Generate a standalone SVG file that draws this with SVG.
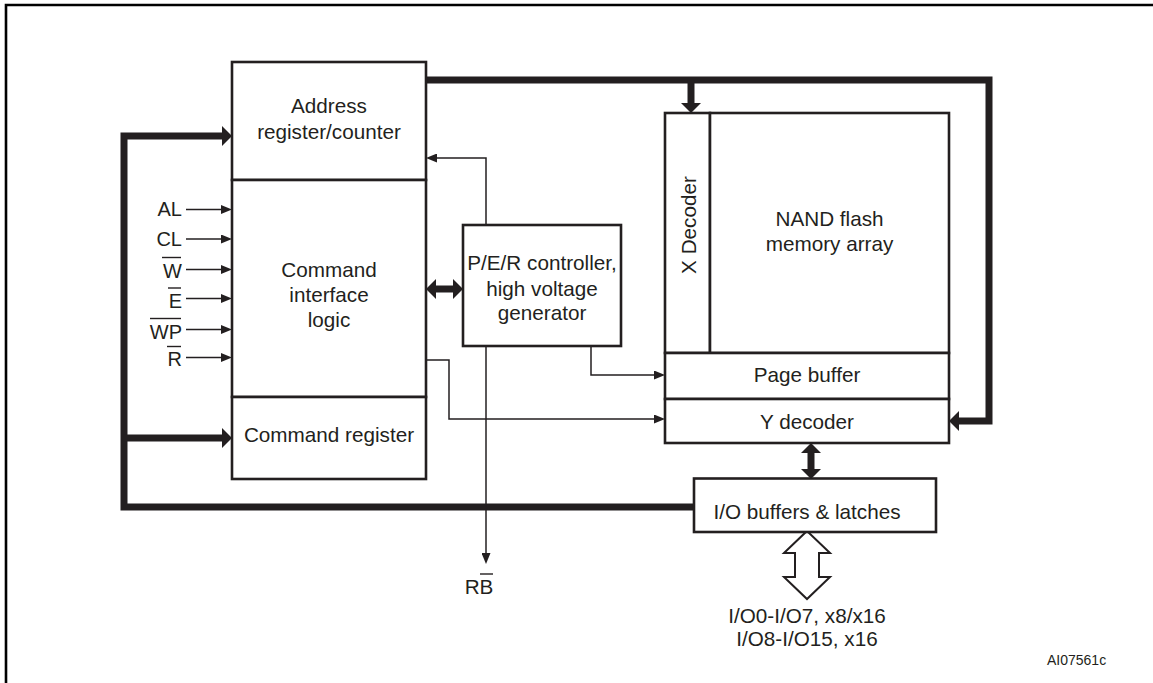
<svg xmlns="http://www.w3.org/2000/svg" width="1153" height="683" viewBox="0 0 1153 683">
<style>
  .box { fill: #ffffff; stroke: #231f20; stroke-width: 2.6; }
  .t { font-family: "Liberation Sans", Arial, sans-serif; font-size: 20.7px; fill: #231f20; text-anchor: middle; }
  .lbl { font-family: "Liberation Sans", Arial, sans-serif; font-size: 20px; fill: #231f20; text-anchor: end; }
  .small { font-family: "Liberation Sans", Arial, sans-serif; font-size: 14px; fill: #231f20; text-anchor: start; }
  .bar { stroke: #231f20; stroke-width: 1.4; }
  .bus-a { fill: none; stroke: #231f20; stroke-width: 7; stroke-linejoin: miter; marker-end: url(#busHead); }
  .bus-d { fill: none; stroke: #231f20; stroke-width: 7; marker-start: url(#busHead); marker-end: url(#busHead); }
  .wire { fill: none; stroke: #231f20; stroke-width: 1.5; marker-end: url(#thinHead); }
  .hollow { fill: #ffffff; stroke: #231f20; stroke-width: 2; stroke-linejoin: miter; }
  .frame { fill: none; stroke: #000000; stroke-width: 2.6; }
</style>
<defs>
  <marker id="thinHead" markerUnits="userSpaceOnUse" markerWidth="11" markerHeight="9" refX="0" refY="4.5" orient="auto">
    <path d="M0,0 L11,4.5 L0,9 z" fill="#231f20"/>
  </marker>
  <marker id="busHead" markerUnits="userSpaceOnUse" markerWidth="10" markerHeight="20" refX="0" refY="10" orient="auto-start-reverse">
    <path d="M0,0 L10,10 L0,20 z" fill="#231f20"/>
  </marker>
</defs>

<path class="frame" d="M6,683 V5 H1153"/>

<g id="connectors">
  <!-- left bus -->
  <path class="bus-a" d="M694,507 H124 V136 H222"/>
  <path class="bus-a" d="M124,438 H222"/>
  <!-- top bus -->
  <path class="bus-a" d="M426,80 H989 V421 H959"/>
  <path class="bus-a" d="M691,80 V103"/>
  <!-- double bus arrows -->
  <path class="bus-d" d="M436,289 H453"/>
  <path class="bus-d" d="M811,453 V469"/>
  <!-- thin wires -->
  <path class="wire" d="M486,225 V158 H437"/>
  <path class="wire" d="M486,346 V553"/>
  <path class="wire" d="M591,346 V375 H654"/>
  <path class="wire" d="M426,360 H449 V419 H654"/>
  <!-- control inputs -->
  <path class="wire" d="M186,209.5 H221"/>
  <path class="wire" d="M186,239 H221"/>
  <path class="wire" d="M186,269.5 H221"/>
  <path class="wire" d="M186,298.5 H221"/>
  <path class="wire" d="M186,329.5 H221"/>
  <path class="wire" d="M186,357.5 H221"/>
  <!-- hollow I/O arrow -->
  <polygon class="hollow" points="807,531 830,553 819,553 819,577 830,577 807,599 784,577 795,577 795,553 784,553"/>
</g>

<g id="address-register">
  <rect class="box" x="232" y="62" width="194" height="118"/>
  <text class="t" x="329" y="113">Address</text>
  <text class="t" x="329" y="138.5">register/counter</text>
</g>

<g id="command-interface-logic">
  <rect class="box" x="232" y="180" width="194" height="217"/>
  <text class="t" x="329" y="276.5">Command</text>
  <text class="t" x="329" y="301.5">interface</text>
  <text class="t" x="329" y="326.5">logic</text>
</g>

<g id="command-register">
  <rect class="box" x="232" y="397" width="194" height="82"/>
  <text class="t" x="329" y="442">Command register</text>
</g>

<g id="pe-controller">
  <rect class="box" x="463" y="225" width="158" height="121"/>
  <text class="t" x="542" y="270">P/E/R controller,</text>
  <text class="t" x="542" y="295.5">high voltage</text>
  <text class="t" x="542" y="320">generator</text>
</g>

<g id="x-decoder">
  <rect class="box" x="665" y="113" width="45" height="240"/>
  <text class="t" x="696" y="225" transform="rotate(-90 696 225)">X Decoder</text>
</g>

<g id="nand-array">
  <rect class="box" x="710" y="113" width="239" height="240"/>
  <text class="t" x="829.5" y="226">NAND flash</text>
  <text class="t" x="829.5" y="250.5">memory array</text>
</g>

<g id="page-buffer">
  <rect class="box" x="665" y="353" width="284" height="46"/>
  <text class="t" x="807" y="382">Page buffer</text>
</g>

<g id="y-decoder">
  <rect class="box" x="665" y="399" width="284" height="44"/>
  <text class="t" x="807" y="428.5">Y decoder</text>
</g>

<g id="io-buffers">
  <rect class="box" x="694" y="478.5" width="242" height="53.5"/>
  <text class="t" x="807" y="518.5">I/O buffers &amp; latches</text>
</g>

<g id="signals">
  <text class="lbl" x="182" y="216">AL</text>
  <text class="lbl" x="182" y="246">CL</text>
  <text class="lbl" x="182" y="277.5">W</text>
  <line class="bar" x1="162" y1="257.5" x2="181" y2="257.5"/>
  <text class="lbl" x="182" y="307.5">E</text>
  <line class="bar" x1="168" y1="288" x2="181" y2="288"/>
  <text class="lbl" x="182" y="339">WP</text>
  <line class="bar" x1="150" y1="318.5" x2="181" y2="318.5"/>
  <text class="lbl" x="182" y="365.5">R</text>
  <line class="bar" x1="167" y1="346.5" x2="181" y2="346.5"/>
</g>

<g id="rb-label">
  <text class="t" x="479" y="593.5">RB</text>
  <line class="bar" x1="480" y1="574" x2="493" y2="574"/>
</g>

<g id="io-label">
  <text class="t" x="807" y="623">I/O0-I/O7, x8/x16</text>
  <text class="t" x="807" y="646">I/O8-I/O15, x16</text>
</g>

<text class="small" x="1047" y="665">AI07561c</text>
</svg>
